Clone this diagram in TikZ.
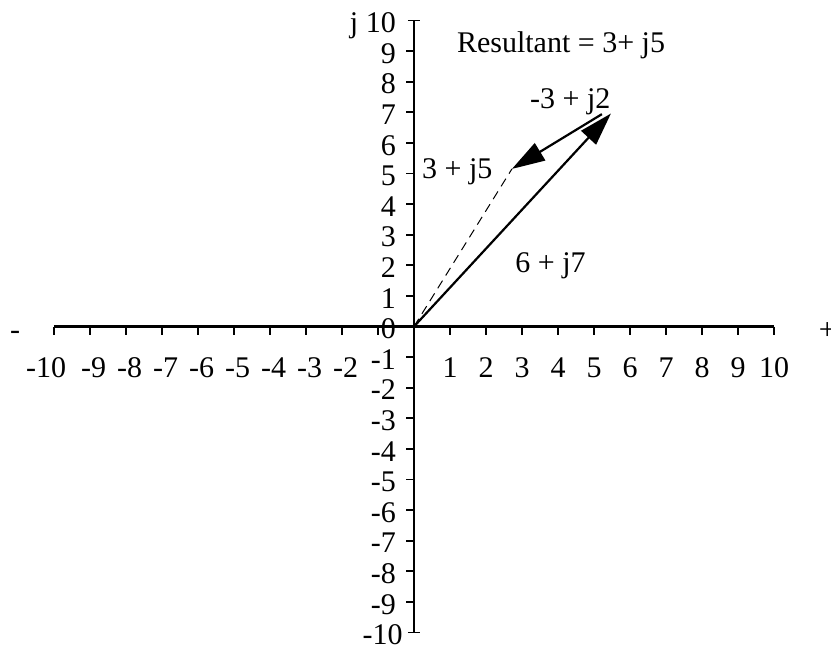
\documentclass[tikz,border=0pt]{standalone}
\usepackage{fontspec}
\setmainfont{Liberation Serif}
\usetikzlibrary{arrows.meta}

\begin{document}
\begin{tikzpicture}[
    x = 36pt, y = 30.6pt,
    axis/.style = {line width=2.6pt},
    tick/.style = {line width=1.8pt},
    txt/.style = {inner sep=0pt, font=\fontsize{30}{30}\selectfont},
    vec/.style = {line width=2.2pt, -{Triangle[length=33pt, width=20pt]}},
    guide/.style = {line width=1pt, dash pattern=on 9pt off 6pt}
    ]
    \useasboundingbox (-11.5,-10.57) rectangle (11.583,10.67);
    \coordinate (O) at (0,0);
    \coordinate (xl) at (-10,0);
    \coordinate (xr) at (10,0);
    \coordinate (yb) at (0,-10);
    \coordinate (yt) at (0,10);
    % axes and ticks
    \draw[axis] (xl) -- (xr);
    \draw[axis] (yb) -- (yt);
    \foreach \i in {-10,...,-1,1,2,...,10}
        \draw[tick] (\i,0) -- (\i,-0.29);
    \foreach \j in {-9,...,9}
        \draw[tick] (0,\j) -- (-0.22,\j);
    \draw[tick] (-0.17,10) -- (0.17,10);
    \draw[tick] (-0.17,-10) -- (0.17,-10);
    % tick labels
    \begin{scope}[nodes=txt]
        \node[anchor=base] (hx-10) at (-10.22,-1.68) {-10};
        \foreach \i in {-9,...,-2}
            \node[anchor=base] (hx\i) at (\i+0.1,-1.68) {\i};
        \foreach \i in {1,...,10}
            \node[anchor=base] (hx\i) at (\i,-1.68) {\i};
        \foreach \j in {-9,...,9}
            \node[anchor=base east] (vy\j) at (-0.5,\j-0.4) {\j};
        \node[anchor=base east] (vy10) at (-0.5,9.6) {j 10};
        \node[anchor=base east] (vy-10) at (-0.31,-10.4) {-10};
        \node[anchor=base] (minus) at (-11.08,-0.44) {-};
        \node[anchor=base west] (plus) at (11.24,-0.44) {+};
    \end{scope}
    % phasors
    \coordinate (A) at (5.47,6.96);
    \coordinate (B0) at (5.22,6.94);
    \coordinate (B) at (2.72,5.15);
    \draw[vec] (O) -- (A);
    \draw[vec] (B0) -- (B);
    \draw[guide] (O) -- (B);
    \begin{scope}[nodes=txt]
        \node[anchor=base west] (res) at (1.19,8.94) {Resultant = 3+ j5};
        \node[anchor=base west] (lb) at (3.22,7.14) {-3 + j2};
        \node[anchor=base west] (lr) at (0.22,4.85) {3 + j5};
        \node[anchor=base west] (la) at (2.81,1.75) {6 + j7};
    \end{scope}
\end{tikzpicture}
\end{document}
